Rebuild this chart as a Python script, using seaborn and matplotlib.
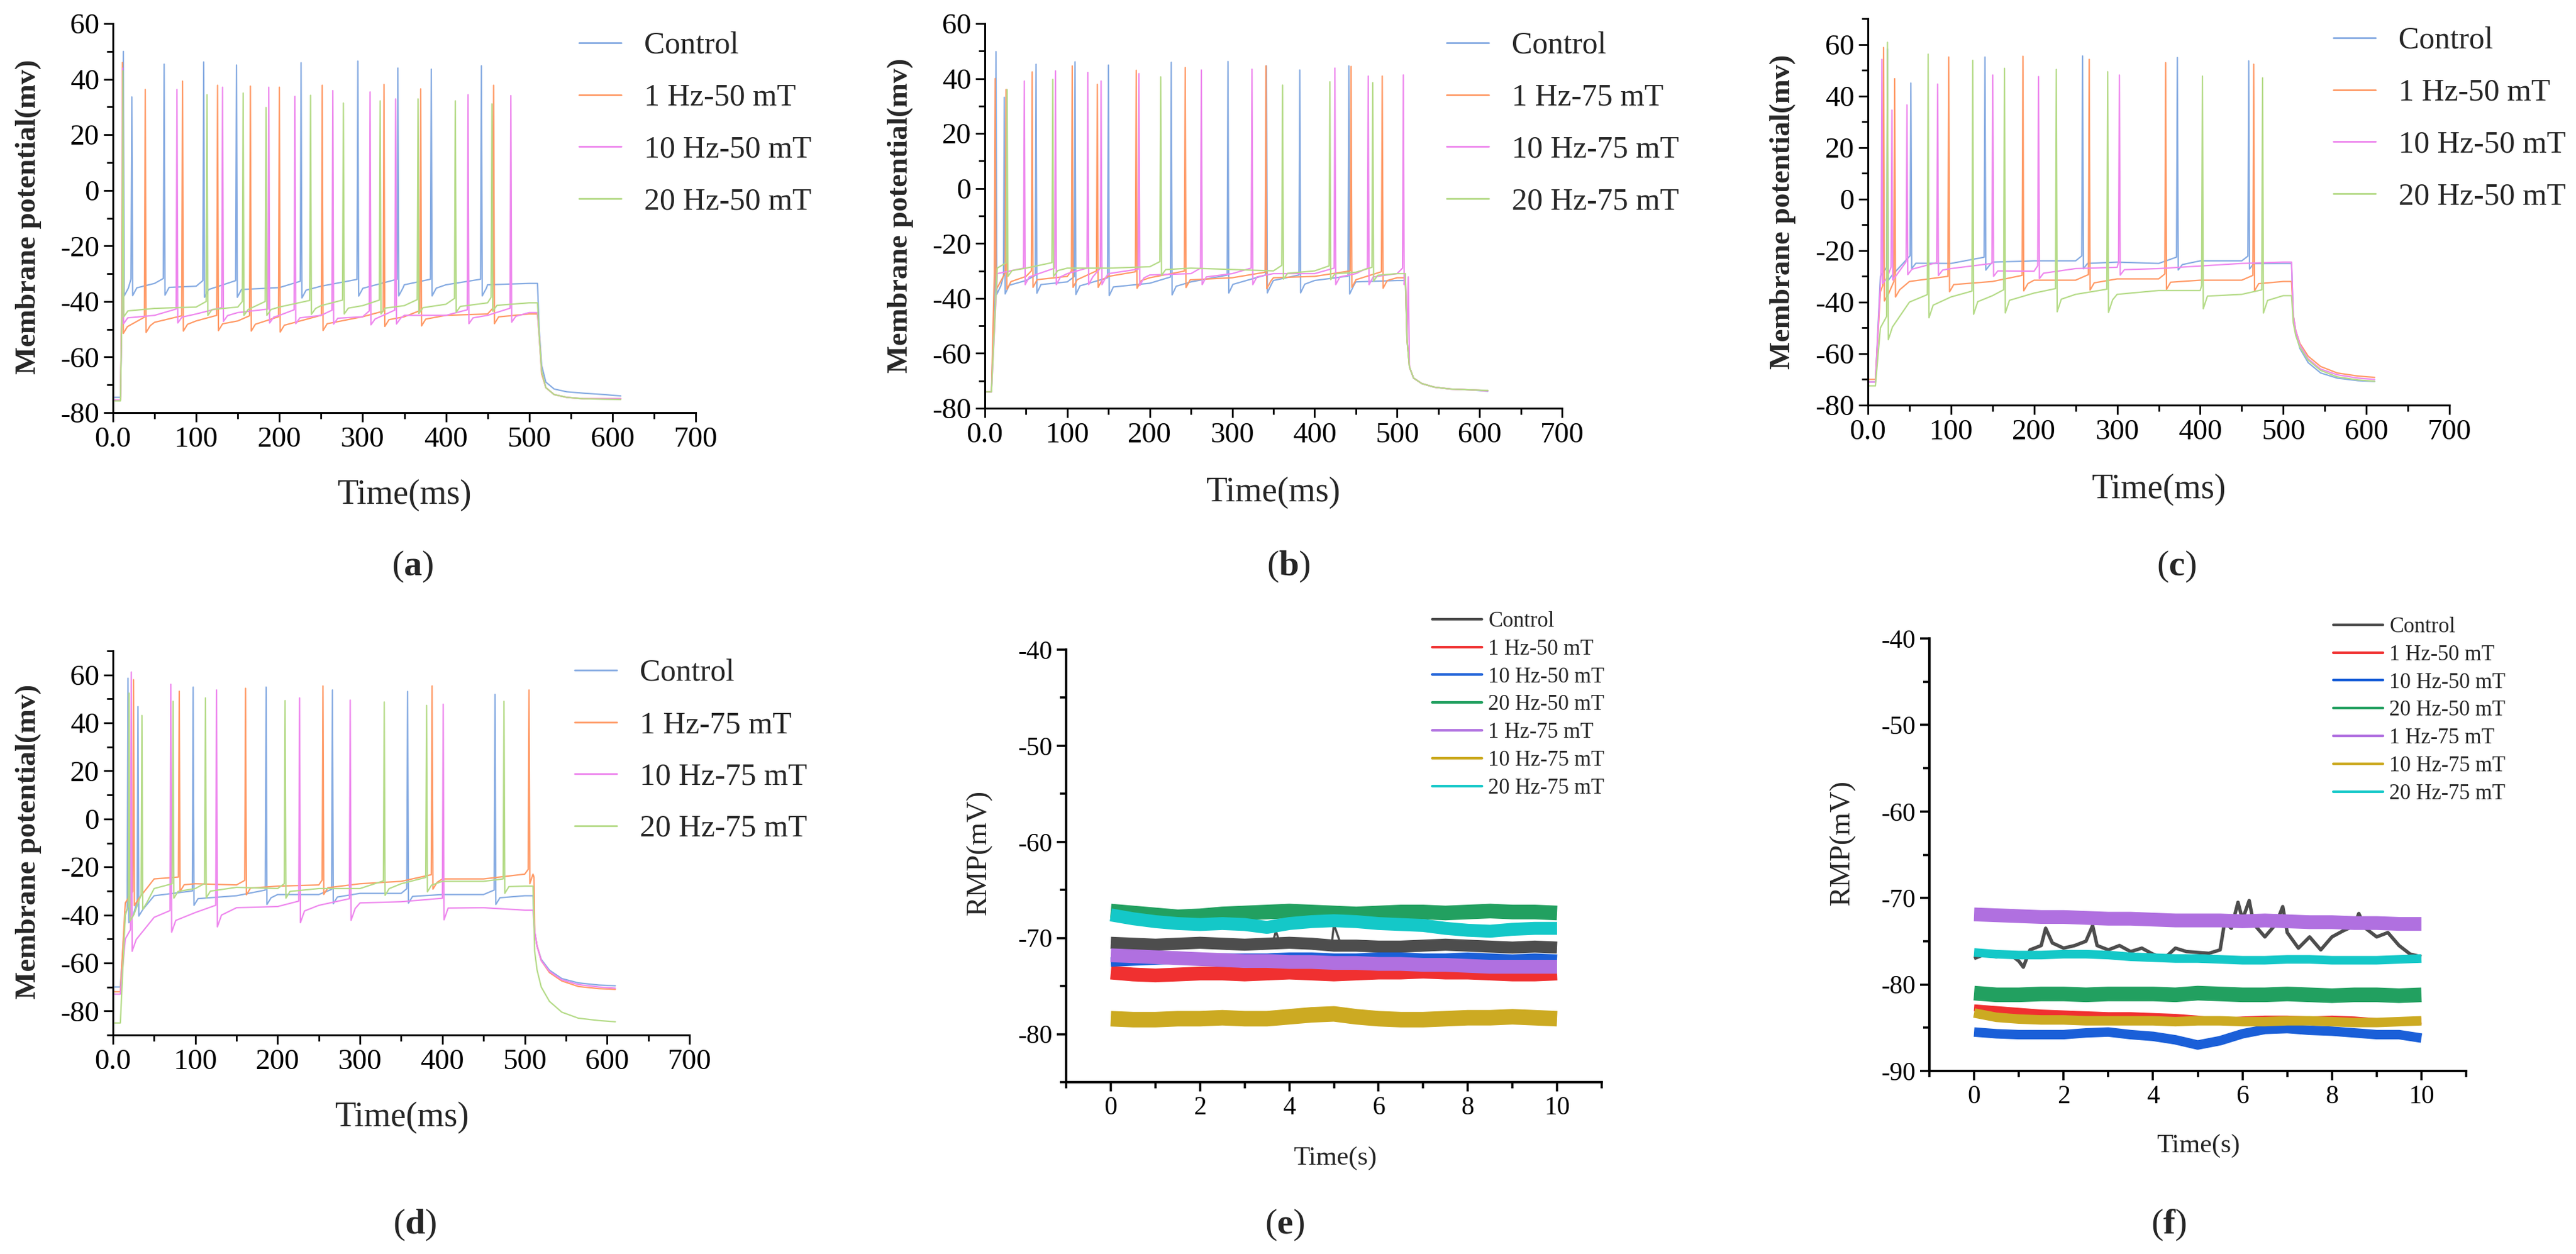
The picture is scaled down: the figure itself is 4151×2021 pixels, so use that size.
import matplotlib.pyplot as plt
import numpy as np
import pandas as pd
import seaborn as sns
from matplotlib.lines import Line2D

sns.set_theme(style="ticks")
plt.rcParams["font.family"] = ["Liberation Serif", "DejaVu Serif"]
plt.rcParams["mathtext.fontset"] = "custom"
plt.rcParams["mathtext.rm"] = "Liberation Serif"
plt.rcParams["mathtext.bf"] = "Liberation Serif:bold"
plt.rcParams["axes.unicode_minus"] = False

W, H = 4151, 2021

# ------------------------------------------------------------------ data
LABELS_50 = ["Control", "1 Hz-50 mT", "10 Hz-50 mT", "20 Hz-50 mT"]
LABELS_75 = ["Control", "1 Hz-75 mT", "10 Hz-75 mT", "20 Hz-75 mT"]
TRACE_COLORS = ["#86abe2", "#ff9a66", "#ee88ee", "#b5db88"]

# plateau level knots (ms) and decay knots after the step (ms)
LEVEL_T = [15, 50, 100, 150, 200, 250, 300, 350, 400, 450, 500]
TAIL_T = [512, 515, 520, 530, 545, 565, 590, 610]

# (a)
A_ONSET = 9
A_REST = [-74.5, -75.5, -75.5, -75.8]
A_AHP = [4, 3.5, 3, 3]
A_SPK_T = [
    [12.5, 22.7, 61.5, 109, 148.4, 226, 294.2, 342.3, 382.4, 442.6],
    [11.4, 38.8, 83.6, 125.7, 165.1, 199.9, 251.4, 325.6, 369.7, 457.3],
    [11.8, 76.9, 131.7, 187.2, 218.6, 264.1, 308.9, 339.6, 426.6, 478],
    [12.0, 113, 156.4, 183.9, 237.4, 276.8, 321, 366.5, 411.3, 455.3],
]
A_SPK_V = [
    [50, 33.6, 45.4, 46.2, 45.1, 45.9, 46.5, 44, 43.6, 44.8],
    [46, 36.3, 39.3, 37.8, 37.5, 37.1, 37.8, 38.1, 36.5, 37.8],
    [44, 36.3, 37.1, 37.1, 33.8, 35.9, 35.4, 32.9, 34.4, 34.1],
    [43, 34.4, 35, 29.8, 34.2, 31.4, 32.2, 32.9, 32.2, 31.1],
]
A_LEVEL = [
    [-34, -33.5, -34.5, -34.5, -35, -34.5, -34, -34, -34, -34, -33.5],
    [-48, -47.5, -47, -47, -47.5, -47, -45.5, -45.5, -45, -44.5, -44.5],
    [-45, -45, -44.5, -44, -45, -45, -45.5, -45, -45, -45, -44],
    [-42.5, -42.5, -42, -42, -42, -41.5, -41.5, -41.5, -41, -40.5, -40.5],
]
A_TAIL = [
    [-50, -63, -69, -71.5, -72.5, -73, -73.5, -74],
    [-52, -66, -71, -73.5, -74.5, -75, -75, -75],
    [-52, -65, -71, -73.5, -74.5, -75, -75, -75],
    [-52, -65, -71, -73.5, -74.5, -75, -75.2, -75.3],
]

# (b)
B_ONSET = 8
B_REST = [-74, -74, -74, -74]
B_AHP = [4.5, 4, 4, 3]
B_SPK_T = [
    [13.5, 23.6, 62.1, 109.4, 149.9, 226.1, 294.9, 341.6, 382, 441.5],
    [12.5, 25.7, 57.4, 106, 136.4, 183.6, 243, 340.9, 444.2, 482],
    [47.9, 85.7, 124.9, 141, 186.9, 262.6, 324, 424.6, 465, 507.6],
    [27, 82.4, 213.3, 361.1, 418.5, 470.5],
]
B_SPK_V = [
    [49.8, 33.2, 45.2, 46.1, 44.9, 45.9, 46.2, 44.6, 43.1, 44.6],
    [40, 36, 42.4, 44.6, 37.9, 43, 44, 44.6, 44.4, 40.9],
    [39.1, 42.8, 42.2, 39.1, 41.8, 43.1, 43.4, 43.8, 40.9, 41.3],
    [36, 39.7, 40.6, 37.6, 38.8, 38.5],
]
B_LEVEL = [
    [-34, -33.5, -34, -34.5, -34.5, -34, -33.5, -33.5, -33.5, -34, -33.5],
    [-33, -32, -32, -32, -32.5, -32, -32.5, -32.5, -32, -32, -32.5],
    [-31, -31, -31, -31, -31.5, -31, -31, -31, -31, -31, -31],
    [-29, -29, -29, -29, -28.5, -29, -29.5, -30, -30, -30.5, -31],
]
B_TAIL = [
    [-55, -65, -69, -71, -72.3, -73, -73.3, -73.8],
    [-55, -65, -69, -71, -72.3, -73, -73.3, -73.6],
    [-55, -65, -69, -71, -72.3, -73, -73.3, -73.6],
    [-55, -65, -69, -71, -72.3, -73, -73.3, -73.5],
]

# (c)
C_ONSET = 9
C_REST = [-71, -70, -71, -72.5]
C_AHP = [3, 4, 3, 7]
C_SPK_T = [
    [23.5, 51.7, 140.9, 258.4, 372.5, 458.4],
    [18.8, 32.2, 97.3, 186.6, 266.4, 358.4, 464.4],
    [16.8, 28.9, 47, 83.9, 150.3, 205.4, 302.7],
    [23.5, 72.5, 126.2, 164.4, 226.8, 288.6, 402.7, 475.1],
]
C_SPK_V = [
    [58.2, 45, 55.1, 55.5, 54.9, 53.6],
    [58.8, 46.7, 55.1, 55.4, 54.2, 52.9, 52.3],
    [54.2, 34.5, 36.5, 44.6, 48.1, 47.5, 48.1],
    [60.8, 56.2, 53.8, 50.7, 50.3, 49.4, 47.7, 47],
]
C_LEVEL = [
    [-30, -24, -25, -24.5, -24, -24, -24.5, -25, -24, -24, -25],
    [-36, -32, -32, -32, -31.5, -31.5, -31, -31, -31.5, -31.5, -32],
    [-30, -26, -27, -27, -28, -27, -26.5, -27, -26, -25, -24.5],
    [-50, -40, -38, -37.5, -36.5, -37, -37, -35.5, -35.5, -37, -37.5],
]
C_TAIL = [
    [-45, -52, -58, -63.5, -67.5, -69.5, -70.5, -70.8],
    [-45, -51, -56, -61, -65, -67.5, -68.7, -69.2],
    [-45, -51, -56.5, -62, -66, -68.2, -69.5, -70],
    [-48, -53, -57.5, -62.5, -66.5, -69, -70.2, -70.7],
]

# (d)
D_ONSET = 9
D_REST = [-70, -72, -73, -85]
D_AHP = [4, 4, 7, 4]
D_SPK_T = [
    [18.3, 30.4, 97.4, 186, 266.5, 357.8, 463.9],
    [25, 80.5, 161, 255, 387.5, 505.2],
    [22.3, 70.3, 125.8, 226.6, 288.1, 401],
    [19.6, 35.2, 73, 112.3, 209, 329.4, 380.8, 474.8],
]
D_SPK_V = [
    [58.6, 46.8, 54.9, 54.9, 53.7, 53.1, 51.9],
    [58, 53.2, 54.4, 55.4, 55.4, 53.7],
    [61.2, 56.1, 53.7, 50.4, 49.5, 47.8],
    [52.4, 43.1, 49, 50.4, 49.3, 48.7, 47.3, 49],
]
D_LEVEL = [
    [-40, -32, -32, -32, -31.5, -31.5, -31, -31, -31.5, -31.5, -32],
    [-35, -25, -27, -27.5, -28, -27.5, -27, -26, -25, -25, -23],
    [-50, -41, -39, -37, -36.5, -36, -35, -34.5, -35, -37, -38],
    [-40, -29, -29, -28.5, -29, -29, -29, -27, -26, -26, -28],
]
D_TAIL = [
    [-47, -53, -58.5, -63, -66.5, -68.3, -69.2, -69.5],
    [-47, -53, -59, -64, -67.5, -69.8, -70.7, -71],
    [-47, -53, -59, -63.5, -67, -69, -70, -70.5],
    [-55, -63, -70, -76, -80.5, -83, -84, -84.5],
]

# (e) / (f) resting membrane potential
RMP_LABELS = ["Control", "1 Hz-50 mT", "10 Hz-50 mT", "20 Hz-50 mT",
              "1 Hz-75 mT", "10 Hz-75 mT", "20 Hz-75 mT"]
RMP_COLORS = ["#4d4d4d", "#f03030", "#1a5fd8", "#22a060",
              "#b070e0", "#ccaa22", "#14c8c8"]
RMP_T = [0, 0.5, 1, 1.5, 2, 2.5, 3, 3.5, 4, 4.5, 5,
         5.5, 6, 6.5, 7, 7.5, 8, 8.5, 9, 9.5, 10]

E_CTRL = [-70.5, -70.6, -70.7, -70.6, -70.5, -70.6, -70.7, -70.6, -70.5, -70.6,
          -70.8, -70.8, -70.9, -70.9, -70.8, -70.7, -70.8, -70.9, -71.0, -70.9, -71.0]
E_CTRL_SPK_T = [3.62, 3.7, 3.8, 4.95, 5.0, 5.15]
E_CTRL_SPK_V = [-70.6, -69.3, -70.7, -70.7, -68.6, -70.6]
E_RMP = [
    [-73.6, -73.8, -73.9, -73.8, -73.7, -73.7, -73.8, -73.7, -73.6, -73.7, -73.8,
     -73.7, -73.6, -73.6, -73.5, -73.6, -73.6, -73.7, -73.8, -73.8, -73.7],
    [-72.5, -72.4, -72.3, -72.2, -72.2, -72.1, -72.1, -72.1, -72.0, -72.0, -72.1,
     -72.1, -72.0, -72.0, -72.1, -72.1, -72.0, -72.1, -72.2, -72.1, -72.2],
    [-67.2, -67.4, -67.6, -67.8, -67.7, -67.5, -67.4, -67.3, -67.2, -67.3, -67.4,
     -67.5, -67.4, -67.3, -67.3, -67.4, -67.3, -67.2, -67.3, -67.3, -67.4],
    [-71.8, -71.9, -72.0, -72.1, -72.2, -72.3, -72.4, -72.4, -72.5, -72.5, -72.6,
     -72.6, -72.7, -72.7, -72.8, -72.8, -72.9, -73.0, -73.0, -73.0, -73.0],
    [-78.4, -78.5, -78.5, -78.4, -78.4, -78.3, -78.4, -78.4, -78.2, -78.0, -77.9,
     -78.2, -78.4, -78.5, -78.5, -78.4, -78.3, -78.3, -78.2, -78.3, -78.4],
    [-67.6, -68.0, -68.3, -68.5, -68.6, -68.5, -68.6, -68.9, -68.5, -68.3, -68.2,
     -68.3, -68.5, -68.6, -68.7, -69.0, -69.2, -69.3, -69.1, -69.0, -69.0],
]
E_LW = [16, 11, 17, 16, 18, 15]

F_CTRL_T = [0, 0.25, 0.5, 0.75, 1.0, 1.1, 1.25, 1.5, 1.6, 1.75, 2.0, 2.25, 2.5,
            2.65, 2.75, 3.0, 3.25, 3.5, 3.75, 4.0, 4.25, 4.5, 4.75, 5.0, 5.25,
            5.5, 5.6, 5.75, 5.9, 6.0, 6.15, 6.25, 6.5, 6.75, 6.9, 7.0, 7.25,
            7.5, 7.75, 8.0, 8.25, 8.5, 8.6, 8.75, 9.0, 9.25, 9.5, 9.75, 10.0]
F_CTRL_V = [-77.0, -76.5, -76.8, -76.3, -77.3, -78.0, -76.0, -75.5, -73.5,
            -75.2, -75.8, -75.5, -75.0, -73.2, -75.5, -76.0, -75.5, -76.2,
            -75.8, -76.5, -77.0, -75.8, -76.2, -76.3, -76.4, -76.0, -72.8,
            -73.5, -70.5, -72.5, -70.3, -73.0, -74.5, -73.0, -71.0, -74.0,
            -75.8, -74.5, -76.0, -74.5, -73.8, -73.2, -71.8, -73.5, -74.5,
            -74.0, -75.5, -76.5, -76.8]
F_RMP = [
    [-82.7, -82.9, -83.1, -83.3, -83.4, -83.5, -83.6, -83.6, -83.7, -83.8, -84.0,
     -84.3, -84.1, -84.0, -84.0, -84.1, -84.0, -84.1, -84.3, -84.4, -84.2],
    [-85.5, -85.7, -85.8, -85.8, -85.8, -85.6, -85.5, -85.8, -86.0, -86.4, -87.0,
     -86.5, -85.7, -85.2, -85.1, -85.3, -85.4, -85.6, -85.8, -85.8, -86.2],
    [-81.0, -81.2, -81.2, -81.1, -81.1, -81.2, -81.1, -81.1, -81.1, -81.2, -81.0,
     -81.1, -81.2, -81.2, -81.1, -81.2, -81.3, -81.2, -81.2, -81.3, -81.2],
    [-71.9, -72.0, -72.1, -72.2, -72.2, -72.3, -72.4, -72.4, -72.5, -72.6, -72.6,
     -72.6, -72.7, -72.6, -72.7, -72.8, -72.8, -72.9, -72.9, -73.0, -73.0],
    [-83.3, -83.8, -84.0, -84.1, -84.1, -84.2, -84.2, -84.2, -84.2, -84.3, -84.2,
     -84.2, -84.3, -84.3, -84.2, -84.2, -84.3, -84.4, -84.4, -84.3, -84.2],
    [-76.3, -76.5, -76.6, -76.6, -76.5, -76.5, -76.6, -76.8, -76.9, -77.0, -77.0,
     -77.1, -77.2, -77.2, -77.1, -77.1, -77.2, -77.2, -77.2, -77.1, -77.0],
]
F_LW = [8, 11, 17, 16, 11, 10]


# ------------------------------------------------------------------ helpers
def fx(x):
    return x / W


def fy(y):
    return 1 - y / H


def make_axes(fig, left, top, right, bottom):
    return fig.add_axes([fx(left), fy(bottom), (right - left) / W, (bottom - top) / H])


def build_trace(spk_t, spk_v, level, ahp, rest, tail, onset):
    pts = [(0.0, rest), (onset, rest)]
    for kt, kv in zip(LEVEL_T, level):
        if all(not (ts - 2 <= kt <= ts + 7) for ts in spk_t):
            pts.append((kt, kv))
    for ts, pk in zip(spk_t, spk_v):
        lvl = float(np.interp(ts, LEVEL_T, level))
        pts += [(ts - 1.0, lvl + 2), (ts, pk), (ts + 1.0, lvl - ahp),
                (ts + 6.0, lvl - 0.3 * ahp)]
    pts.append((510.0, level[-1]))
    pts += list(zip(TAIL_T, tail))
    pts.sort()
    return pd.DataFrame(pts, columns=["t", "v"])


def style_axes(ax, lw, size):
    for side in ["top", "right"]:
        ax.spines[side].set_visible(False)
    for side in ["left", "bottom"]:
        ax.spines[side].set_linewidth(lw)
        ax.spines[side].set_color("black")
    ax.tick_params(which="major", direction="out", length=11, width=lw * 0.9,
                   labelsize=size, pad=5, colors="black")
    ax.tick_params(which="minor", direction="out", length=7, width=lw * 0.9,
                   colors="black")
    ax.set_facecolor("none")


def place_legend(ax, handles, labels, left, top, size, hl, htp, ls):
    ax.legend(handles, labels, loc="upper left",
              bbox_to_anchor=(fx(left), fy(top)), bbox_transform=fig.transFigure,
              frameon=False, fontsize=size, handlelength=hl, handletextpad=htp,
              labelspacing=ls, borderpad=0, borderaxespad=0)


def set_labels(ax, box, xlab, xl_pos, xsize, ylab, yl_pos, ysize, ybold):
    left, top, right, bottom = box
    ax.set_xlabel(xlab, fontsize=xsize)
    ax.set_ylabel(ylab, fontsize=ysize, fontweight="bold" if ybold else "normal")
    ax.xaxis.set_label_coords((xl_pos[0] - left) / (right - left),
                              (bottom - xl_pos[1]) / (bottom - top))
    ax.yaxis.set_label_coords((yl_pos[0] - left) / (right - left),
                              (bottom - yl_pos[1]) / (bottom - top))


def spike_panel(box, ylim, labels, spk_t, spk_v, level, ahp, rest, tail, onset,
                leg_pos, xl_pos, yl_pos):
    ax = make_axes(fig, *box)
    for i in range(4):
        df = build_trace(spk_t[i], spk_v[i], level[i], ahp[i], rest[i], tail[i], onset)
        sns.lineplot(data=df, x="t", y="v", color=TRACE_COLORS[i], lw=1.6,
                     sort=False, estimator=None, ax=ax)
    ax.set_xlim(0, 700)
    ax.set_ylim(*ylim)
    ax.set_xticks(range(0, 701, 100),
                  ["0.0"] + [str(v) for v in range(100, 701, 100)])
    ax.set_xticks(range(50, 700, 100), minor=True)
    ax.set_yticks(range(-80, 61, 20))
    ax.set_yticks(range(ylim[0], ylim[1] + 1, 10), minor=True)
    style_axes(ax, 2.2, 34)
    handles = [Line2D([], [], color=c, lw=2) for c in TRACE_COLORS]
    place_legend(ax, handles, labels, leg_pos[0], leg_pos[1], 36, 1.35, 0.75, 0.74)
    set_labels(ax, box, "Time(ms)", xl_pos, 40, "Membrane potential(mv)", yl_pos, 34, True)
    return ax


def rmp_panel(box, ylim, yticks, ctrl_t, ctrl_v, ctrl_lw, spk_t, spk_v, series, lws,
              leg_pos, xl_pos, yl_pos):
    ax = make_axes(fig, *box)
    sns.lineplot(x=ctrl_t, y=ctrl_v, color=RMP_COLORS[0], lw=ctrl_lw,
                 sort=False, estimator=None, ax=ax, solid_capstyle="butt")
    if spk_t:
        sns.lineplot(x=spk_t, y=spk_v, color=RMP_COLORS[0], lw=2.5,
                     sort=False, estimator=None, ax=ax)
    for vals, c, lw in zip(series, RMP_COLORS[1:], lws):
        sns.lineplot(x=RMP_T, y=vals, color=c, lw=lw, sort=False,
                     estimator=None, ax=ax, solid_capstyle="butt")
    ax.set_xlim(-1, 11)
    ax.set_ylim(*ylim)
    ax.set_xticks(range(0, 11, 2))
    ax.set_xticks(range(-1, 12, 2), minor=True)
    ax.set_yticks(yticks)
    ax.set_yticks(np.arange(ylim[0], ylim[1] + 1, 5), minor=True)
    style_axes(ax, 2.8, 30)
    handles = [Line2D([], [], color=c, lw=3) for c in RMP_COLORS]
    place_legend(ax, handles, RMP_LABELS, leg_pos[0], leg_pos[1], 25, 2.3, 0.3, 0.34)
    set_labels(ax, box, "Time(s)", xl_pos, 31, "RMP(mV)", yl_pos, 34, False)
    return ax


# ------------------------------------------------------------------ figure
fig = plt.figure(figsize=(W / 100, H / 100), dpi=100)
fig.patch.set_facecolor("white")

BOX_A = (182, 38, 1121, 665)
BOX_B = (1587, 38, 2517, 658)
BOX_C = (3010, 30, 3947, 653)
BOX_D = (182, 1049, 1111, 1668)
BOX_E = (1718, 1047, 2581, 1744)
BOX_F = (3109, 1029, 3974, 1726)

spike_panel(BOX_A, (-80, 60), LABELS_50, A_SPK_T, A_SPK_V, A_LEVEL, A_AHP, A_REST,
            A_TAIL, A_ONSET, (933, 51), (652, 772), (67, 349))
spike_panel(BOX_B, (-80, 60), LABELS_75, B_SPK_T, B_SPK_V, B_LEVEL, B_AHP, B_REST,
            B_TAIL, B_ONSET, (2331, 51), (2052, 768), (1472, 347))
spike_panel(BOX_C, (-80, 70), LABELS_50, C_SPK_T, C_SPK_V, C_LEVEL, C_AHP, C_REST,
            C_TAIL, C_ONSET, (3760, 43), (3479, 763), (2894, 341))
spike_panel(BOX_D, (-90, 70), LABELS_75, D_SPK_T, D_SPK_V, D_LEVEL, D_AHP, D_REST,
            D_TAIL, D_ONSET, (926, 1062), (648, 1775), (67, 1356))
rmp_panel(BOX_E, (-85, -40), range(-80, -39, 10), RMP_T, E_CTRL, 14,
          E_CTRL_SPK_T, E_CTRL_SPK_V, E_RMP, E_LW,
          (2308, 985), (2151, 1847), (1599, 1374))
rmp_panel(BOX_F, (-90, -40), range(-90, -39, 10), F_CTRL_T, F_CTRL_V, 4,
          [], [], F_RMP, F_LW,
          (3760, 994), (3542, 1827), (2990, 1358))

for letter, (px, py) in zip("abcdef", [(665, 913), (2076, 913), (3507, 913),
                                       (668, 1974), (2070, 1974), (3495, 1974)]):
    fig.text(fx(px), fy(py), r"($\mathbf{%s}$)" % letter, fontsize=42,
             ha="center", va="center")

fig.savefig("out.png", dpi=100, facecolor="white")
